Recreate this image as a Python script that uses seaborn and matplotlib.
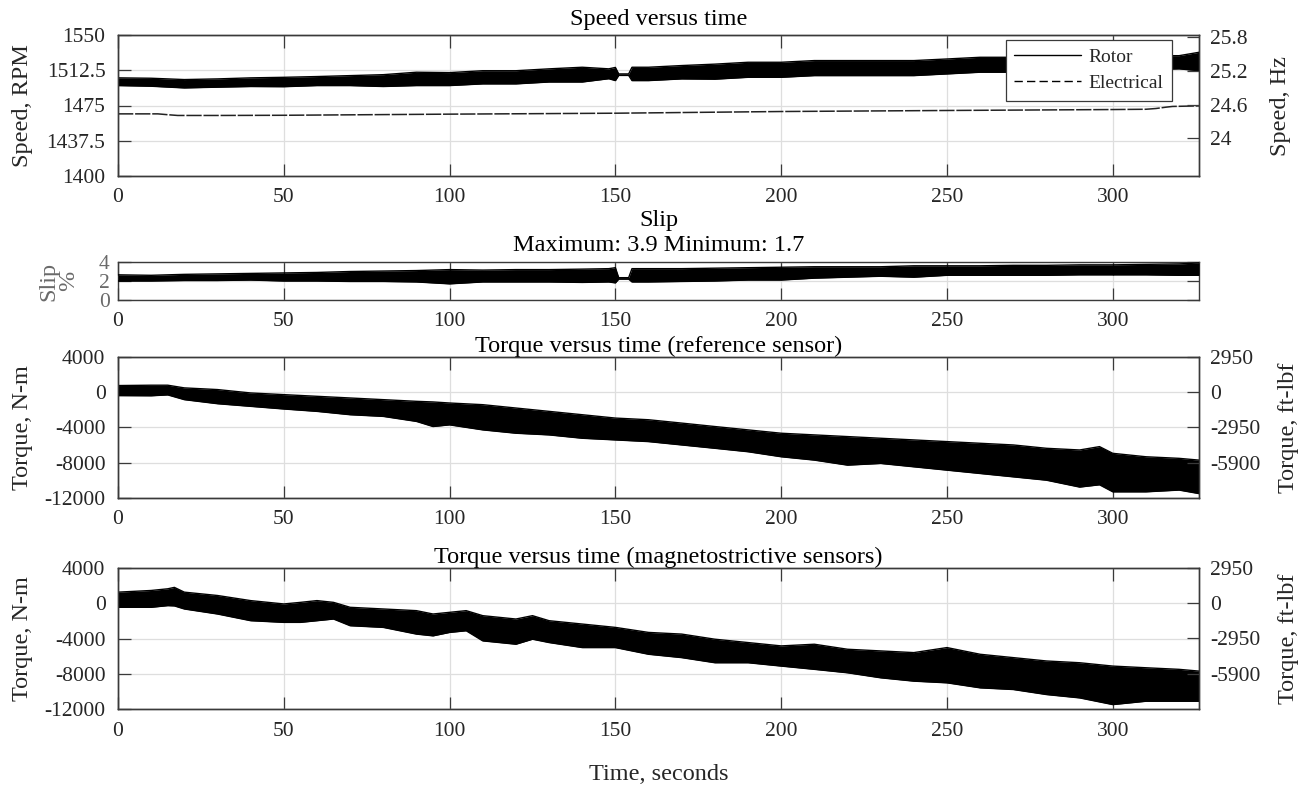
import numpy as np
import pandas as pd
import matplotlib
matplotlib.use('Agg')
import matplotlib.pyplot as plt
import seaborn as sns
from matplotlib.lines import Line2D

sns.set_theme(style='white')
plt.rcParams['font.family'] = ['Liberation Serif', 'DejaVu Serif']

# ---------------- data ----------------
# Rotor speed (noisy band, RPM): time, upper and lower envelope
rotor_t  = [0, 10, 20, 30, 40, 50, 60, 70, 80, 90, 100, 110, 120, 130, 140, 148, 150, 151,
            154, 155, 160, 170, 180, 190, 200, 210, 220, 230, 240, 250, 260, 270, 280, 290,
            300, 310, 320, 326]
rotor_hi = [1504.4, 1504.0, 1502.6, 1503.3, 1504.4, 1505.0, 1505.8, 1506.8, 1507.8, 1510.4,
            1510.0, 1512.0, 1512.0, 1514.0, 1515.7, 1514.0, 1515.5, 1508.6, 1508.6, 1515.7,
            1515.7, 1517.5, 1519.0, 1521.0, 1521.0, 1522.8, 1522.8, 1522.8, 1522.8, 1524.5,
            1526.3, 1526.3, 1527.0, 1527.5, 1528.0, 1528.0, 1528.0, 1531.6]
rotor_lo = [1496.2, 1495.5, 1493.7, 1494.5, 1495.2, 1495.0, 1496.2, 1496.2, 1495.2, 1496.2,
            1496.2, 1498.0, 1498.0, 1500.0, 1500.0, 1503.5, 1501.5, 1507.0, 1507.0, 1501.5,
            1501.5, 1503.3, 1503.0, 1505.0, 1505.0, 1506.8, 1506.8, 1506.8, 1506.8, 1508.6,
            1510.4, 1510.4, 1511.0, 1511.5, 1512.0, 1513.0, 1514.0, 1512.0]

# Electrical speed (smooth, RPM)
elec_t = [0, 12, 15, 18, 30, 50, 100, 150, 200, 250, 300, 310, 313, 316, 318, 326]
elec_v = [1466.1, 1466.1, 1465.2, 1464.4, 1464.4, 1464.6, 1465.8, 1466.8, 1468.6, 1469.7,
          1470.7, 1471.0, 1471.8, 1473.2, 1474.0, 1474.6]

# Slip (%) band
slip_t  = [0, 10, 20, 30, 40, 50, 60, 70, 80, 90, 100, 110, 120, 130, 140, 148, 150, 151,
           154, 155, 160, 170, 180, 190, 200, 210, 220, 230, 240, 250, 260, 270, 280, 290,
           300, 310, 320, 326]
slip_hi = [2.65, 2.6, 2.7, 2.75, 2.8, 2.85, 2.9, 3.0, 3.05, 3.1, 3.2, 3.15, 3.2, 3.2, 3.25,
           3.3, 3.4, 2.35, 2.35, 3.3, 3.3, 3.3, 3.35, 3.4, 3.45, 3.5, 3.5, 3.5, 3.6, 3.6,
           3.6, 3.65, 3.65, 3.7, 3.7, 3.75, 3.8, 3.9]
slip_lo = [2.0, 2.0, 2.05, 2.05, 2.1, 2.0, 2.0, 1.95, 1.95, 1.9, 1.7, 1.9, 1.9, 1.9, 1.85,
           1.9, 1.8, 2.2, 2.2, 1.9, 1.9, 1.95, 2.0, 2.1, 2.1, 2.3, 2.4, 2.5, 2.4, 2.6,
           2.6, 2.6, 2.6, 2.65, 2.65, 2.65, 2.6, 2.6]
slip_max, slip_min = 3.9, 1.7

# Torque, reference sensor (N-m) band
tref_t  = [0, 10, 15, 20, 30, 40, 50, 60, 70, 80, 90, 95, 100, 110, 120, 130, 140, 150, 160,
           170, 180, 190, 200, 210, 220, 230, 240, 250, 260, 270, 280, 290, 296, 300, 310,
           320, 326]
tref_hi = [760, 800, 800, 495, 305, -80, -270, -460, -650, -840, -1030, -1100, -1220, -1410,
           -1790, -2170, -2550, -2930, -3120, -3500, -3890, -4270, -4650, -4840, -5030, -5220,
           -5410, -5600, -5790, -5980, -6360, -6550, -6170, -6930, -7320, -7500, -7700]
tref_lo = [-380, -400, -300, -840, -1300, -1600, -1900, -2170, -2550, -2740, -3310, -3890,
           -3700, -4270, -4650, -4840, -5220, -5410, -5600, -5980, -6360, -6750, -7320, -7700,
           -8270, -8080, -8460, -8840, -9220, -9600, -9980, -10760, -10500, -11300, -11300,
           -11100, -11500]

# Torque, magnetostrictive sensors (N-m) band
tmag_t  = [0, 10, 15, 17, 20, 30, 40, 50, 55, 60, 65, 70, 80, 90, 95, 100, 105, 110, 120, 125,
           130, 140, 150, 160, 170, 180, 190, 200, 210, 220, 230, 240, 250, 260, 270, 280,
           290, 300, 310, 320, 326]
tmag_hi = [1260, 1450, 1640, 1800, 1260, 880, 300, -80, 100, 300, 100, -460, -650, -840,
           -1220, -1030, -840, -1410, -1790, -1410, -1980, -2360, -2740, -3310, -3500, -4080,
           -4460, -4840, -4650, -5220, -5410, -5600, -5030, -5790, -6170, -6550, -6750, -7130,
           -7320, -7500, -7700]
tmag_lo = [-460, -460, -270, -300, -650, -1220, -1980, -2170, -2170, -1980, -1790, -2550,
           -2740, -3500, -3700, -3310, -3120, -4270, -4650, -4080, -4460, -5030, -5030, -5790,
           -6170, -6750, -6750, -7130, -7500, -7890, -8460, -8840, -9030, -9600, -9790,
           -10360, -10740, -11500, -11120, -11120, -11120]

x_ticks = [0, 50, 100, 150, 200, 250, 300]
x_max = 326
speed_ticks = [1400, 1437.5, 1475, 1512.5, 1550]
speed_tick_labels = ['1400', '1437.5', '1475', '1512.5', '1550']
hz_ticks = [24, 24.6, 25.2, 25.8]
hz_tick_labels = ['24', '24.6', '25.2', '25.8']
slip_ticks = [0, 2, 4]
torque_ticks = [-12000, -8000, -4000, 0, 4000]
ftlbf_ticks = [-5900, -2950, 0, 2950]
RPM_PER_HZ = 60.0
FTLBF_PER_NM = 0.73756

# ---------------- styling ----------------
TXT = '#262626'
SPINE = '#3a3a3a'
GRID = '#dedede'
FS_TICK = 15.5
FS = 17.5

fig = plt.figure(figsize=(13.12, 7.88), dpi=100)
W, H = 1312.0, 788.0
L, R = 118.0, 1199.0


def make_axes(top, bottom):
    return fig.add_axes([L / W, 1 - bottom / H, (R - L) / W, (bottom - top) / H])


def base_style(ax, mirror_y=True):
    ax.set_xlim(0, x_max)
    ax.set_xticks(x_ticks)
    ax.set_xticklabels([str(v) for v in x_ticks])
    ax.grid(True, color=GRID, lw=0.9)
    ax.set_axisbelow(True)
    for s in ax.spines.values():
        s.set_color(SPINE)
        s.set_linewidth(1.0)
        s.set_visible(True)
    ax.tick_params(axis='both', direction='in', length=9, width=0.9, color=SPINE,
                   labelsize=FS_TICK, labelcolor=TXT, top=True, bottom=True,
                   left=True, right=mirror_y, pad=9)
    ax.set_xlabel('')
    ax.set_ylabel('')


def band(ax, t, hi, lo):
    df = pd.DataFrame({'t': t, 'hi': hi, 'lo': lo})
    ax.fill_between(df['t'], df['lo'], df['hi'], color='black', lw=0, zorder=3)
    sns.lineplot(data=df, x='t', y='hi', ax=ax, color='black', lw=1.0, zorder=3)
    sns.lineplot(data=df, x='t', y='lo', ax=ax, color='black', lw=1.0, zorder=3)


def right_axis(ax, lim, ticks, labels, label, xpos):
    tw = ax.twinx()
    tw.set_ylim(*lim)
    tw.set_yticks(ticks)
    tw.set_yticklabels(labels)
    tw.tick_params(axis='y', direction='in', length=9, width=0.9, color=SPINE,
                   labelsize=FS_TICK, labelcolor=TXT, pad=8)
    for s in tw.spines.values():
        s.set_color(SPINE)
        s.set_linewidth(1.0)
    tw.grid(False)
    tw.set_ylabel(label, fontsize=FS, color=TXT)
    tw.yaxis.set_label_coords(xpos, 0.5)
    return tw


# ---------- Panel 1: speed ----------
ax1 = make_axes(35, 176)
band(ax1, rotor_t, rotor_hi, rotor_lo)
df_e = pd.DataFrame({'t': elec_t, 'v': elec_v})
sns.lineplot(data=df_e, x='t', y='v', ax=ax1, color='#222222', lw=1.1,
             linestyle=(0, (10, 1.2)), zorder=3)
base_style(ax1, mirror_y=False)
ax1.set_ylim(1400, 1550)
ax1.set_yticks(speed_ticks)
ax1.set_yticklabels(speed_tick_labels)
ax1.set_ylabel('Speed, RPM', fontsize=FS, color=TXT)
ax1.yaxis.set_label_coords(-0.079, 0.5)
ax1.set_title('Speed versus time', fontsize=FS, color='black', pad=7)
tw1 = right_axis(ax1, (1400 / RPM_PER_HZ, 1550 / RPM_PER_HZ), hz_ticks, hz_tick_labels,
                 'Speed, Hz', 1.066)
handles = [Line2D([], [], color='black', lw=1.0, linestyle='-'),
           Line2D([], [], color='black', lw=1.0, linestyle=(0, (6, 3)))]
leg = tw1.legend(handles, ['Rotor', 'Electrical'], loc='upper right',
                 bbox_to_anchor=(0.975, 0.965), fontsize=14, frameon=True,
                 fancybox=False, framealpha=1, edgecolor=SPINE, handlelength=3.4,
                 borderpad=0.45, labelspacing=0.42, handletextpad=0.4, borderaxespad=0)
leg.get_frame().set_linewidth(0.9)
leg.set_zorder(10)

# ---------- Panel 2: slip ----------
ax2 = make_axes(262, 300)
band(ax2, slip_t, slip_hi, slip_lo)
base_style(ax2, mirror_y=True)
ax2.set_ylim(0, 4)
ax2.set_yticks(slip_ticks)
ax2.set_yticklabels([str(v) for v in slip_ticks])
ax2.tick_params(axis='y', labelcolor='#6a6a6a', pad=6)
ax2.set_ylabel('Slip\n%', fontsize=FS, color='#6a6a6a', linespacing=0.95)
ax2.yaxis.set_label_coords(-0.036, 0.5)
ax2.set_title(f'Slip\nMaximum: {slip_max} Minimum: {slip_min}', fontsize=FS,
              color='black', pad=8, linespacing=1.25)

# ---------- Panel 3: torque reference ----------
ax3 = make_axes(357, 498)
band(ax3, tref_t, tref_hi, tref_lo)
base_style(ax3, mirror_y=False)
ax3.set_ylim(-12000, 4000)
ax3.set_yticks(torque_ticks)
ax3.set_yticklabels([str(v) for v in torque_ticks])
ax3.set_ylabel('Torque, N-m', fontsize=FS, color=TXT)
ax3.yaxis.set_label_coords(-0.079, 0.5)
ax3.set_title('Torque versus time (reference sensor)', fontsize=FS, color='black', pad=3)
right_axis(ax3, (-12000 * FTLBF_PER_NM, 4000 * FTLBF_PER_NM), ftlbf_ticks,
           [str(v) for v in ftlbf_ticks], 'Torque, ft-lbf', 1.073)

# ---------- Panel 4: torque magnetostrictive ----------
ax4 = make_axes(568, 709)
band(ax4, tmag_t, tmag_hi, tmag_lo)
base_style(ax4, mirror_y=False)
ax4.set_ylim(-12000, 4000)
ax4.set_yticks(torque_ticks)
ax4.set_yticklabels([str(v) for v in torque_ticks])
ax4.set_ylabel('Torque, N-m', fontsize=FS, color=TXT)
ax4.yaxis.set_label_coords(-0.079, 0.5)
ax4.set_title('Torque versus time (magnetostrictive sensors)', fontsize=FS, color='black', pad=3.5)
ax4.set_xlabel('Time, seconds', fontsize=FS, color=TXT, labelpad=17)
right_axis(ax4, (-12000 * FTLBF_PER_NM, 4000 * FTLBF_PER_NM), ftlbf_ticks,
           [str(v) for v in ftlbf_ticks], 'Torque, ft-lbf', 1.073)

fig.savefig('out.png', dpi=100, facecolor='white')
